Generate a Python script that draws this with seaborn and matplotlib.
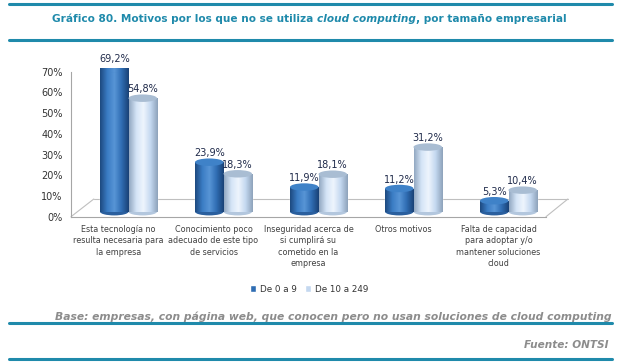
import numpy as np
import pandas as pd
import matplotlib
matplotlib.use("Agg")
import matplotlib.pyplot as plt
import seaborn as sns
from matplotlib.colors import LinearSegmentedColormap
from matplotlib.patches import Ellipse
from matplotlib.transforms import ScaledTranslation

# DATA
categories = [
    "Esta tecnología no\nresulta necesaria para\nla empresa",
    "Conocimiento poco\nadecuado de este tipo\nde servicios",
    "Inseguridad acerca de\nsi cumplirá su\ncometido en la\nempresa",
    "Otros motivos",
    "Falta de capacidad\npara adoptar y/o\nmantener soluciones\ncloud",
]
series_names = ["De 0 a 9", "De 10 a 249"]
small = [69.2, 23.9, 11.9, 11.2, 5.3]
medium = [54.8, 18.3, 18.1, 31.2, 10.4]
y_ticks = [0, 10, 20, 30, 40, 50, 60, 70]

df = pd.DataFrame({
    "motivo": categories * 2,
    "tamano": [series_names[0]] * 5 + [series_names[1]] * 5,
    "valor": small + medium,
})

TEAL = "#1f8aab"
base_colors = {series_names[0]: "#2f6db3", series_names[1]: "#c4d8f0"}
grad_colors = {
    series_names[0]: ["#1d4a80", "#3a7cc4", "#5895d6", "#2f6db3", "#1a4276"],
    series_names[1]: ["#93a9c2", "#d4e4f6", "#eef5fd", "#c4d8f0", "#8ea3bb"],
}
cap_colors = {series_names[0]: "#3f82c8", series_names[1]: "#a9bdd3"}
foot_colors = {series_names[0]: "#2a5f9e", series_names[1]: "#b3c7de"}

sns.set_style("white")
plt.rcParams["font.family"] = ["DejaVu Sans"]

fig = plt.figure(figsize=(6.18, 3.63), dpi=100)
ax = fig.add_axes([71 / 618, 1 - 216.7 / 363, 475 / 618, 145 / 363])

sns.barplot(data=df, x="motivo", y="valor", hue="tamano", palette=base_colors,
            width=0.6, ax=ax, legend=True, saturation=1)

ax.set_ylim(0, 70)
ax.set_xlim(-0.5, 4.5)

# bars sit a bit "deeper" in the 3D box: shift right and up
depth = ax.transData + ScaledTranslation(10 / 100, 5 / 100, fig.dpi_scale_trans)

# cylinder shading on every bar
bars = ax.patches[:10]
for i, patch in enumerate(bars):
    name = series_names[i // 5]
    patch.set_transform(depth)
    x0, w, h = patch.get_x(), patch.get_width(), patch.get_height()
    cmap = LinearSegmentedColormap.from_list("c", grad_colors[name])
    grad = np.linspace(0, 1, 64).reshape(1, -1)
    im = ax.imshow(grad, extent=[x0, x0 + w, 0, h], aspect="auto", cmap=cmap,
                   origin="lower", zorder=patch.get_zorder() + 0.1, transform=depth)
    im.set_clip_path(patch)
    ax.add_patch(Ellipse((x0 + w / 2, 0), w, 3.6, facecolor=foot_colors[name],
                         edgecolor="none", zorder=patch.get_zorder() + 0.05, transform=depth))
    ax.add_patch(Ellipse((x0 + w / 2, h), w, 3.6, facecolor=cap_colors[name],
                         edgecolor="none", zorder=patch.get_zorder() + 0.2, transform=depth))
    ax.text(x0 + w / 2, h + 1.9, f"{h:.1f}%".replace(".", ","), ha="center",
            va="bottom", fontsize=7, color="#1f2a4a", zorder=5, transform=depth,
            clip_on=False)

ax.set_xlim(-0.5, 4.5)
ax.set_ylim(0, 70)

# axes styling
for s in ["top", "right"]:
    ax.spines[s].set_visible(False)
for s in ["left", "bottom"]:
    ax.spines[s].set_color("#a6a6a6")
    ax.spines[s].set_linewidth(0.8)

ax.set_yticks(y_ticks)
ax.set_yticklabels([f"{v}%" for v in y_ticks], fontsize=7, color="#333333")
ax.tick_params(axis="y", length=3, color="#a6a6a6", pad=3)
ax.set_xticks(range(5))
ax.set_xticklabels(categories, fontsize=5.8, color="#404040", linespacing=1.35, va="top")
ax.tick_params(axis="x", length=0, pad=6)
ax.set_xticks(np.arange(-0.5, 5, 1), minor=True)
ax.tick_params(axis="x", which="minor", length=3, color="#a6a6a6")
ax.set_xlabel("")
ax.set_ylabel("")

# 3D floor outline
floor = dict(color="#bfbfbf", lw=0.8, transform=ax.transAxes, clip_on=False, zorder=0)
ax.plot([0, 0.048], [0, 0.122], **floor)
ax.plot([0.048, 1.046], [0.122, 0.122], **floor)
ax.plot([1, 1.046], [0, 0.122], **floor)

# legend
handles, labels = ax.get_legend_handles_labels()
ax.legend(handles, labels, loc="center", bbox_to_anchor=(0.5, 1 - 289 / 363),
          bbox_transform=fig.transFigure, ncol=2, frameon=False, fontsize=6.3,
          handlelength=0.7, handleheight=0.7, handletextpad=0.4, columnspacing=1.0,
          labelcolor="#333333")

# frame lines
for yy in [4, 40, 323, 359]:
    fig.add_artist(plt.Line2D([0.015, 0.99], [1 - yy / 363] * 2, color=TEAL, lw=2.2))

# title with italic part
renderer = fig.canvas.get_renderer()
parts = [("Gráfico 80. Motivos por los que no se utiliza ", "normal"),
         ("cloud computing", "italic"),
         (", por tamaño empresarial", "normal")]
pieces = []
for txt, style in parts:
    t = fig.text(0, 1 - 18.5 / 363, txt, fontsize=7.6, fontweight="bold", style=style,
                 color=TEAL, va="center", ha="left")
    pieces.append(t)
widths = [p.get_window_extent(renderer).width for p in pieces]
x = (618 - sum(widths)) / 2
for p, wd in zip(pieces, widths):
    p.set_x(x / 618)
    x += wd

fig.text(0.99, 1 - 317 / 363,
         "Base: empresas, con página web, que conocen pero no usan soluciones de cloud computing",
         ha="right", va="center", fontsize=7.75, fontweight="bold", style="italic", color="#8c8c8c")
fig.text(0.985, 1 - 345 / 363, "Fuente: ONTSI", ha="right", va="center", fontsize=7.6,
         fontweight="bold", style="italic", color="#8c8c8c")

fig.savefig("out.png", dpi=100)
